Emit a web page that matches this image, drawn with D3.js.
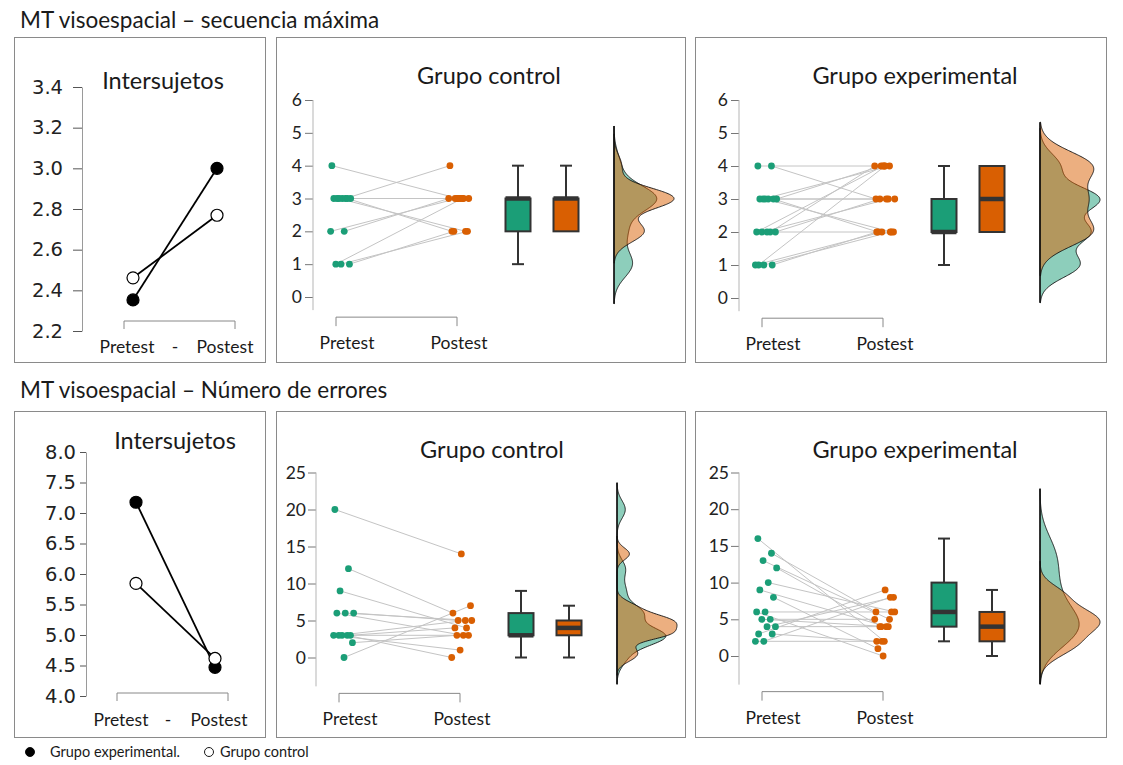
<!DOCTYPE html>
<html lang="es">
<head>
<meta charset="utf-8">
<script src="https://d3js.org/d3.v7.min.js"></script>
<style>
  body { margin: 0; background: #fff; }
</style>
</head>
<body>
<script>
// ---- data: paired scores per participant (pretest[i] -> postest[i]) ----
// MT visoespacial – secuencia máxima
var seqCtrlPre  = [4, 3, 3, 3, 3, 3, 3, 3, 2, 2, 1, 1, 1];
var seqCtrlPost = [3, 4, 3, 3, 3, 3, 2, 2, 3, 3, 3, 2, 2];
var seqExpPre   = [4, 4, 3, 3, 3, 3, 3, 3, 2, 2, 2, 2, 2, 1, 1, 1, 1];
var seqExpPost  = [4, 3, 4, 4, 3, 3, 2, 2, 4, 4, 3, 3, 2, 4, 2, 2, 2];
// MT visoespacial – Número de errores
var errCtrlPre  = [20, 12, 9, 6, 6, 6, 3, 3, 3, 3, 3, 2, 0];
var errCtrlPost = [14, 6, 4, 5, 5, 3, 4, 3, 1, 0, 5, 3, 7];
var errExpPre   = [16, 14, 13, 12, 10, 9, 8, 6, 6, 5, 5, 4, 4, 3, 3, 2, 2];
var errExpPost  = [2, 6, 5, 4, 6, 4, 1, 6, 0, 5, 4, 4, 8, 9, 2, 8, 2];

var moments = ["Pretest", "Postest"];
var seqTicks = [0, 1, 2, 3, 4, 5, 6];
var errTicks = [0, 5, 10, 15, 20, 25];
var seqMeanTicks = [2.2, 2.4, 2.6, 2.8, 3.0, 3.2, 3.4];
var errMeanTicks = [4.0, 4.5, 5.0, 5.5, 6.0, 6.5, 7.0, 7.5, 8.0];

var green = "#1b9e77", orange = "#d95f02";
var font = "Lato, 'Open Sans', sans-serif";

var svg = d3.select("body").append("svg")
	.attr("width", 1123)
	.attr("height", 765);

// section titles
svg.append("text").attr("x", 20).attr("y", 28)
	.style("font-family", font).style("font-size", "22.5px").style("fill", "#1a1a1a")
	.text("MT visoespacial – secuencia máxima");
svg.append("text").attr("x", 20).attr("y", 398)
	.style("font-family", font).style("font-size", "22.5px").style("fill", "#1a1a1a")
	.text("MT visoespacial – Número de errores");

// panel frames
function frame(x0, y0, x1, y1) {
	svg.append("rect")
		.attr("x", x0 + 0.5).attr("y", y0 + 0.5)
		.attr("width", x1 - x0).attr("height", y1 - y0)
		.attr("fill", "none").attr("stroke", "#8a8a8a").attr("stroke-width", 1);
}
frame(14, 37, 265, 362);
frame(276, 37, 685, 362);
frame(695, 37, 1106, 362);
frame(14, 411, 265, 737);
frame(276, 411, 685, 737);
frame(695, 411, 1106, 737);

// ---------- left panels: group means ----------
function drawMeans(cfg) {
	var g = svg.append("g");
	var y = d3.scaleLinear().domain(cfg.domain).range(cfg.yRange);
	var x = d3.scalePoint().domain(moments).range(cfg.xPts);

	var axis = g.append("g")
		.attr("transform", "translate(" + cfg.axisX + ",0)")
		.call(d3.axisLeft(y).tickValues(cfg.ticks).tickFormat(d3.format(".1f"))
			.tickSize(cfg.tickSize).tickSizeOuter(0).tickPadding(cfg.pad));
	axis.select(".domain").attr("stroke", "#9a9a9a");
	axis.selectAll(".tick line").attr("stroke", "#555");
	axis.selectAll(".tick text")
		.style("font-family", "'DejaVu Sans', sans-serif")
		.style("font-size", "19.5px").style("fill", "#222");

	// bracket under the x axis
	g.append("path")
		.attr("d", "M" + cfg.bracket[0] + "," + (cfg.bracketY + 8) + "V" + cfg.bracketY +
			"H" + cfg.bracket[1] + "V" + (cfg.bracketY + 8))
		.attr("fill", "none").attr("stroke", "#888");
	var labs = ["Pretest", "-", "Postest"];
	g.selectAll(".xl").data(labs).enter().append("text")
		.attr("x", function(d, i) { return cfg.labelX[i]; })
		.attr("y", cfg.labelY)
		.attr("text-anchor", "middle")
		.style("font-family", font).style("font-size", "17.5px").style("fill", "#1a1a1a")
		.text(function(d) { return d; });

	g.append("text").attr("x", cfg.titleX).attr("y", cfg.titleY)
		.attr("text-anchor", "middle")
		.style("font-family", font).style("font-size", "23.5px").style("fill", "#1a1a1a")
		.text("Intersujetos");

	var groups = [
		{ means: [d3.mean(cfg.exp[0]), d3.mean(cfg.exp[1])], fill: "#000" },
		{ means: [d3.mean(cfg.ctrl[0]), d3.mean(cfg.ctrl[1])], fill: "#fff" }
	];
	var line = d3.line()
		.x(function(d, i) { return x(moments[i]); })
		.y(function(d) { return y(d); });
	groups.forEach(function(gr) {
		g.append("path").attr("d", line(gr.means))
			.attr("fill", "none").attr("stroke", "#000").attr("stroke-width", 1.8);
	});
	groups.forEach(function(gr) {
		g.selectAll(null).data(gr.means).enter().append("circle")
			.attr("cx", function(d, i) { return x(moments[i]); })
			.attr("cy", function(d) { return y(d); })
			.attr("r", 6)
			.attr("fill", gr.fill).attr("stroke", "#000").attr("stroke-width", 1.2);
	});
}

drawMeans({
	domain: [2.2, 3.4], yRange: [331, 87], ticks: seqMeanTicks,
	axisX: 82, tickSize: 9, pad: 10,
	xPts: [133, 217], bracket: [124, 235], bracketY: 321,
	labelX: [127, 175, 225], labelY: 353, titleX: 163, titleY: 89,
	exp: [seqExpPre, seqExpPost], ctrl: [seqCtrlPre, seqCtrlPost]
});
drawMeans({
	domain: [4, 8], yRange: [696, 452], ticks: errMeanTicks,
	axisX: 86, tickSize: 6, pad: 4,
	xPts: [136, 215], bracket: [117, 228], bracketY: 693,
	labelX: [121, 168, 219], labelY: 726, titleX: 175, titleY: 449,
	exp: [errExpPre, errExpPost], ctrl: [errCtrlPre, errCtrlPost]
});

// ---------- raincloud panels ----------
function bwNrd0(v) {
	var s = v.slice().sort(d3.ascending);
	var iqr = d3.quantile(s, 0.75) - d3.quantile(s, 0.25);
	return 0.9 * Math.min(d3.deviation(v), iqr / 1.34) * Math.pow(v.length, -0.2);
}
function kde(v, low) {
	var bw = bwNrd0(v);
	var lo = d3.min(v) - 3 * bw, hi = d3.max(v) + 3 * bw;
	return d3.range(256).map(function(i) {
		var t = lo + (hi - lo) * i / 255;
		var dens = d3.mean(v, function(xv) {
			var z = (t - xv) / bw;
			return Math.exp(-0.5 * z * z);
		}) / (bw * Math.sqrt(2 * Math.PI));
		return [t, dens];
	}).filter(function(d) { return d[0] >= low; });
}
function boxStats(v) {
	var s = v.slice().sort(d3.ascending);
	var q1 = d3.quantile(s, 0.25), med = d3.quantile(s, 0.5), q3 = d3.quantile(s, 0.75);
	var iqr = q3 - q1;
	return {
		q1: q1, med: med, q3: q3,
		lo: d3.min(s.filter(function(d) { return d >= q1 - 1.5 * iqr; })),
		hi: d3.max(s.filter(function(d) { return d <= q3 + 1.5 * iqr; }))
	};
}
function jit(i, seed) {
	return ((i * 0.6180339887 + seed) % 1) - 0.5;
}

function drawRain(cfg) {
	var g = svg.append("g");
	var a = cfg.axisX;
	var y = d3.scaleLinear().domain([0, cfg.max]).range([cfg.y0, cfg.yTop]);
	var xp = d3.scaleOrdinal()
		.domain(["pre", "post", "box1", "box2", "dens"])
		.range([a + 27, a + 146, a + 205, a + 253, a + 301]);

	// y axis
	var axis = g.append("g")
		.attr("transform", "translate(" + a + ",0)")
		.call(d3.axisLeft(y).tickValues(cfg.ticks).tickFormat(d3.format("d"))
			.tickSize(8).tickSizeOuter(0).tickPadding(cfg.pad));
	axis.select(".domain").remove();
	axis.selectAll(".tick line").attr("stroke", "#777");
	axis.selectAll(".tick text")
		.style("font-family", font).style("font-size", "17.5px").style("fill", "#222");
	g.append("line")
		.attr("x1", a).attr("x2", a)
		.attr("y1", y(cfg.max)).attr("y2", y(cfg.low))
		.attr("stroke", "#b5b5b5");

	// x bracket and labels
	var by = y(cfg.low) + 7;
	g.append("path")
		.attr("d", "M" + (a + 23) + "," + (by + 9) + "V" + by + "H" + (a + 144) + "V" + (by + 9))
		.attr("fill", "none").attr("stroke", "#888");
	g.selectAll(".xl").data(moments).enter().append("text")
		.attr("x", function(d, i) { return i === 0 ? a + 34 : a + 146; })
		.attr("y", by + 32)
		.attr("text-anchor", "middle")
		.style("font-family", font).style("font-size", "17.5px").style("fill", "#1a1a1a")
		.text(function(d) { return d; });

	g.append("text").attr("x", a + 176).attr("y", cfg.titleY)
		.attr("text-anchor", "middle")
		.style("font-family", font).style("font-size", "23.5px").style("fill", "#1a1a1a")
		.text(cfg.title);

	// paired lines and points
	var jw = 22;
	var pairs = cfg.pre.map(function(d, i) {
		return {
			x0: xp("pre") + jit(i, 0.13) * jw, y0: y(d),
			x1: xp("post") + jit(i, 0.47) * jw, y1: y(cfg.post[i])
		};
	});
	g.selectAll(".pair").data(pairs).enter().append("line")
		.attr("x1", function(d) { return d.x0; }).attr("y1", function(d) { return d.y0; })
		.attr("x2", function(d) { return d.x1; }).attr("y2", function(d) { return d.y1; })
		.attr("stroke", "#c4c4c4").attr("stroke-width", 1);
	g.selectAll(".pp").data(pairs).enter().append("circle")
		.attr("cx", function(d) { return d.x0; }).attr("cy", function(d) { return d.y0; })
		.attr("r", 3.4).attr("fill", green);
	g.selectAll(".po").data(pairs).enter().append("circle")
		.attr("cx", function(d) { return d.x1; }).attr("cy", function(d) { return d.y1; })
		.attr("r", 3.4).attr("fill", orange);

	// boxplots
	[[cfg.pre, "box1", green], [cfg.post, "box2", orange]].forEach(function(b) {
		var st = boxStats(b[0]), cx = xp(b[1]), hw = 12.5, cw = 6;
		var bg = g.append("g").attr("stroke", "#333").attr("stroke-width", 2);
		if (st.hi > st.q3) {
			bg.append("line").attr("x1", cx).attr("x2", cx).attr("y1", y(st.hi)).attr("y2", y(st.q3));
			bg.append("line").attr("x1", cx - cw).attr("x2", cx + cw).attr("y1", y(st.hi)).attr("y2", y(st.hi));
		}
		if (st.lo < st.q1) {
			bg.append("line").attr("x1", cx).attr("x2", cx).attr("y1", y(st.q1)).attr("y2", y(st.lo));
			bg.append("line").attr("x1", cx - cw).attr("x2", cx + cw).attr("y1", y(st.lo)).attr("y2", y(st.lo));
		}
		bg.append("rect")
			.attr("x", cx - hw).attr("width", 2 * hw)
			.attr("y", y(st.q3)).attr("height", y(st.q1) - y(st.q3))
			.attr("fill", b[2]);
		bg.append("line").attr("x1", cx - hw).attr("x2", cx + hw)
			.attr("y1", y(st.med)).attr("y2", y(st.med)).attr("stroke-width", 4.5);
	});

	// half densities
	var dPre = kde(cfg.pre, cfg.low), dPost = kde(cfg.post, cfg.low);
	var maxD = d3.max(dPre.concat(dPost), function(d) { return d[1]; });
	var w = d3.scaleLinear().domain([0, maxD]).range([0, 60]);
	var base = xp("dens");
	var area = d3.area()
		.y(function(d) { return y(d[0]); })
		.x0(base)
		.x1(function(d) { return base + w(d[1]); });
	g.append("path").attr("d", area(dPre))
		.attr("fill", green).attr("fill-opacity", 0.5)
		.attr("stroke", "#111").attr("stroke-width", 0.9);
	g.append("path").attr("d", area(dPost))
		.attr("fill", orange).attr("fill-opacity", 0.5)
		.attr("stroke", "#111").attr("stroke-width", 0.9);
	var ext = d3.extent(dPre.concat(dPost), function(d) { return d[0]; });
	g.append("line")
		.attr("x1", base).attr("x2", base)
		.attr("y1", y(ext[0])).attr("y2", y(ext[1]))
		.attr("stroke", "#111").attr("stroke-width", 1.5);
}

drawRain({ title: "Grupo control", pre: seqCtrlPre, post: seqCtrlPost,
	axisX: 313, y0: 297, yTop: 100, max: 6, ticks: seqTicks, low: -0.4, pad: 3, titleY: 84 });
drawRain({ title: "Grupo experimental", pre: seqExpPre, post: seqExpPost,
	axisX: 739, y0: 298, yTop: 100, max: 6, ticks: seqTicks, low: -0.4, pad: 3, titleY: 84 });
drawRain({ title: "Grupo control", pre: errCtrlPre, post: errCtrlPost,
	axisX: 316, y0: 657.5, yTop: 472.5, max: 25, ticks: errTicks, low: -3.9, pad: 2, titleY: 458 });
drawRain({ title: "Grupo experimental", pre: errExpPre, post: errExpPost,
	axisX: 739, y0: 656, yTop: 472.5, max: 25, ticks: errTicks, low: -3.9, pad: 2, titleY: 458 });

// legend
var legend = [
	{ label: "Grupo experimental.", fill: "#000", cx: 30, tx: 50 },
	{ label: "Grupo control", fill: "#fff", cx: 209, tx: 220 }
];
var lg = svg.selectAll(".lg").data(legend).enter().append("g");
lg.append("circle")
	.attr("cx", function(d) { return d.cx; }).attr("cy", 752)
	.attr("r", 4.5)
	.attr("fill", function(d) { return d.fill; })
	.attr("stroke", "#000").attr("stroke-width", 0.9);
lg.append("text")
	.attr("x", function(d) { return d.tx; }).attr("y", 757)
	.style("font-family", font).style("font-size", "14.5px").style("fill", "#1a1a1a")
	.text(function(d) { return d.label; });
</script>
</body>
</html>
